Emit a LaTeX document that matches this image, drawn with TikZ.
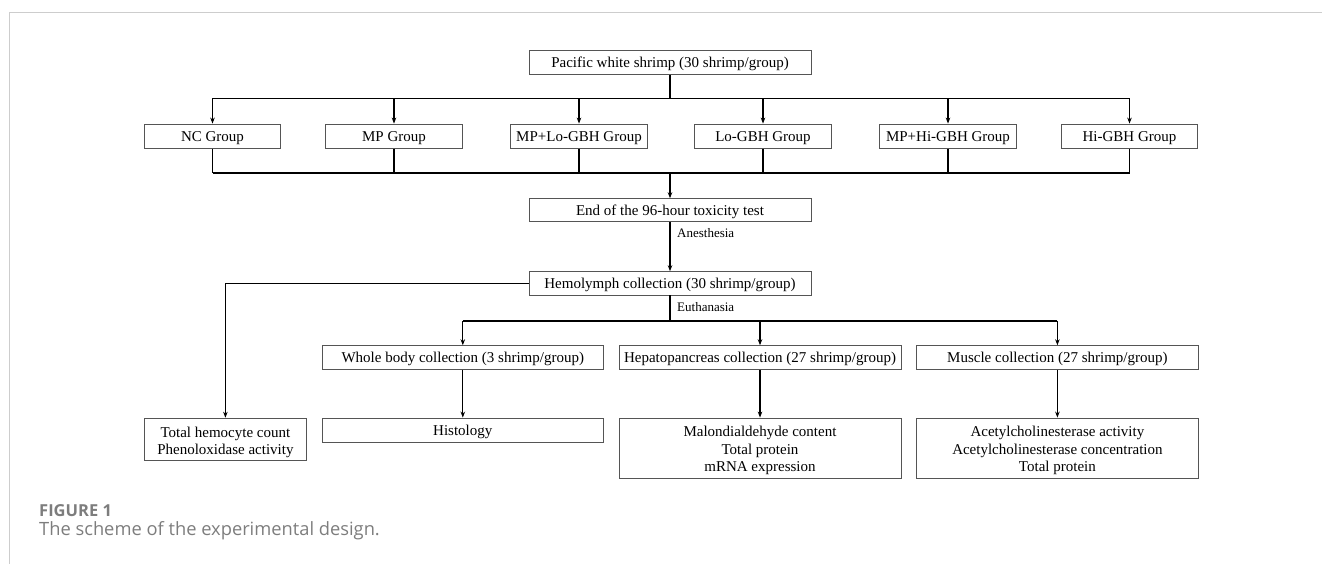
\documentclass[tikz,border=0pt]{standalone}
\usepackage{fontspec}
\setmainfont{Liberation Serif}
\newfontfamily\capfont{Open Sans}
\usetikzlibrary{arrows.meta}
\definecolor{framegray}{RGB}{205,205,205}
\definecolor{boxgray}{RGB}{85,85,85}
\definecolor{capgray}{RGB}{125,125,125}
\newcommand{\mytopstrut}[1]{\rule{0pt}{#1}}
\tikzset{
  box/.style={draw=boxgray, line width=0.9pt, inner sep=0pt, minimum height=24.3pt, align=center, font=\fontsize{15}{17.5}\selectfont},
  onebox/.style={box, text height=12pt, text depth=2pt},
  conn/.style={draw=black, line width=1.1pt},
  arr/.style={conn, -{Stealth[length=6pt,width=4.5pt]}},
  lbl/.style={font=\fontsize{13}{15}\selectfont, anchor=west, inner sep=0pt},
  capstyle/.style={anchor=base west, inner sep=0pt, text=capgray}
}
\begin{document}
\begin{tikzpicture}[x=1pt,y=-1pt]
\useasboundingbox (0,0) rectangle (1322,564);
\draw[framegray, line width=1.5pt] (1322,12.5) -- (9.3,12.5) -- (9.3,564);

% top
\node[onebox, minimum width=282pt] (top) at (670,62.2) {Pacific white shrimp (30 shrimp/group)};
% groups
\node[onebox, minimum width=136.5pt] (g1) at (212.5,136.2) {NC Group};
\node[onebox, minimum width=136.5pt] (g2) at (394,136.2) {MP Group};
\node[onebox, minimum width=136.5pt] (g3) at (579,136.2) {MP+Lo-GBH Group};
\node[onebox, minimum width=136.5pt] (g4) at (763,136.2) {Lo-GBH Group};
\node[onebox, minimum width=136.5pt] (g5) at (948,136.2) {MP+Hi-GBH Group};
\node[onebox, minimum width=136.5pt] (g6) at (1129.5,136.2) {Hi-GBH Group};
% middle
\node[onebox, minimum width=282pt, minimum height=23pt] (end) at (670,210.2) {End of the 96-hour toxicity test};
\node[onebox, minimum width=282pt, minimum height=23.3pt] (hemo) at (670,283.3) {Hemolymph collection (30 shrimp/group)};
% collections
\node[onebox, minimum width=281.5pt, minimum height=23.6pt] (whole) at (462.8,357.5) {Whole body collection (3 shrimp/group)};
\node[onebox, minimum width=282pt, minimum height=23.6pt] (hepato) at (760,357.5) {Hepatopancreas collection (27 shrimp/group)};
\node[onebox, minimum width=281.6pt, minimum height=23.6pt] (muscle) at (1057.4,357.5) {Muscle collection (27 shrimp/group)};
% results
\node[box, minimum width=162pt, minimum height=42pt] (thc) at (225.4,439.2) {\mytopstrut{17.3pt}Total hemocyte count\\Phenoloxidase activity};
\node[onebox, minimum width=281.5pt, minimum height=24.3pt] (histo) at (462.8,430.2) {Histology};
\node[box, minimum width=282pt, minimum height=60.3pt] (malon) at (760,448.2) {\mytopstrut{15.7pt}Malondialdehyde content\\Total protein\\mRNA expression};
\node[box, minimum width=281.6pt, minimum height=60.3pt] (ache) at (1057.4,448.2) {\mytopstrut{15.7pt}Acetylcholinesterase activity\\Acetylcholinesterase concentration\\Total protein};

% connectors top
\coordinate (b1) at (670,98.3);
\draw[conn] (top.south) -- (b1);
\draw[conn] (g1.north |- b1) -- (g6.north |- b1);
\foreach \g in {g1,g2,g3,g4,g5,g6} \draw[arr] (\g.north |- b1) -- (\g.north);
\coordinate (b2) at (670,173);
\foreach \g in {g1,g2,g3,g4,g5,g6} \draw[conn] (\g.south) -- (\g.south |- b2);
\draw[conn] (g1.south |- b2) -- (g6.south |- b2);
\draw[arr] (b2) -- (end.north);
% anesthesia
\draw[arr] (end.south) -- (hemo.north);
\node[lbl] (anes) at (677,233.3) {Anesthesia};
% hemolymph to total
\draw[arr] (hemo.west) -| (thc.north);
% euthanasia
\coordinate (b3) at (670,321);
\draw[conn] (hemo.south) -- (b3);
\node[lbl] (euth) at (677,307.3) {Euthanasia};
\draw[conn] (whole.north |- b3) -- (muscle.north |- b3);
\foreach \g in {whole,hepato,muscle} \draw[arr] (\g.north |- b3) -- (\g.north);
\draw[arr] (whole.south) -- (histo.north);
\draw[arr] (hepato.south) -- (malon.north);
\draw[arr] (muscle.south) -- (ache.north);

% caption
\node[capstyle, font=\capfont\bfseries\fontsize{16.5}{19}\selectfont] (figlbl) at (39,516.3) {FIGURE 1};
\node[capstyle, font=\capfont\fontsize{18.3}{21}\selectfont] (cap) at (39,535) {The scheme of the experimental design.};
\end{tikzpicture}
\end{document}
